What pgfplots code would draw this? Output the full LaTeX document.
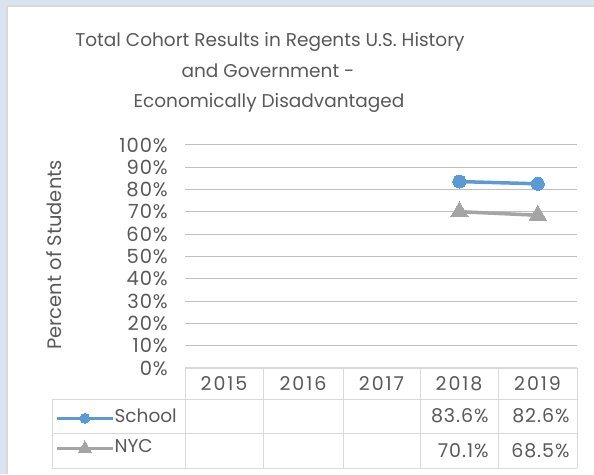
\documentclass[border=0pt]{standalone}
\usepackage{pgfplots}
\pgfplotsset{compat=1.18}
\usepackage{fontspec}
\setmainfont{Poppins}
\newfontfamily\wide[LetterSpace=10]{Poppins}
\newfontfamily\semiwide[LetterSpace=5]{Poppins}
\definecolor{txt}{HTML}{595959}
\definecolor{grid}{HTML}{D9D9D9}
\definecolor{bgblue}{HTML}{DAE3EF}
\definecolor{sch}{HTML}{5B9BD5}
\definecolor{nyc}{HTML}{A5A5A5}
\begin{document}
\begin{tikzpicture}[x=1pt,y=1pt]
\fill[bgblue] (0,0) rectangle (594,474);
\fill[grid] (6,0) rectangle (594,469);
\fill[white] (8,0) rectangle (594,467);
% title
\node[anchor=base,text=txt,font=\fontsize{18.5}{20}\selectfont] at (270,427) {Total Cohort Results in Regents U.S. History};
\node[anchor=base,text=txt,font=\fontsize{18.5}{20}\selectfont] at (268,396) {and Government -};
\node[anchor=base,text=txt,font=\fontsize{18.5}{20}\selectfont] at (269,366) {Economically Disadvantaged};
\begin{axis}[
  scale only axis, width=392pt, height=223pt,
  at={(185pt,106pt)}, anchor=south west,
  xmin=0, xmax=5, ymin=0, ymax=100,
  xtick=\empty,
  ytick={0,10,...,100},
  yticklabels={0\%,10\%,20\%,30\%,40\%,50\%,60\%,70\%,80\%,90\%,100\%},
  ymajorgrids, grid style={grid, line width=1pt},
  axis line style={draw=none},
  major tick length=0pt,
  yticklabel style={text=txt, font=\semiwide\fontsize{19.5}{21}\selectfont, inner sep=0pt, xshift=-17pt},
  ylabel={Percent of Students},
  ylabel style={text=txt, font=\fontsize{19.5}{21}\selectfont, at={(axis description cs:-0.335,0.507)}, anchor=center},
  clip=false,
  legend style={draw=none, fill=none, at={(axis description cs:-0.3395,-0.18)}, anchor=north west,
    font=\fontsize{18.5}{20}\selectfont, text=txt, row sep=14pt,
    nodes={inner sep=0pt, text height=12pt, text depth=4pt, xshift=4pt}},
  legend cell align=left,
  legend image code/.code={\draw[mark repeat=2,mark phase=2,#1, every mark/.append style={scale=0.75}] plot coordinates {(0pt,0pt) (28pt,0pt) (56pt,0pt)};},
]
\addplot[sch, line width=3.5pt, mark=*, mark size=6.5pt, mark options={solid, line width=0pt}] coordinates {(3.5,83.6) (4.5,82.6)};
\addlegendentry{School}
\addplot[nyc, line width=3.5pt, mark=triangle*, mark size=10pt, mark options={solid, line width=0pt}] coordinates {(3.5,70.1) (4.5,68.5)};
\addlegendentry{NYC}
\end{axis}
% data table
\begin{scope}[draw=grid, line width=1pt]
\draw (185,106) -- (577,106);
\draw (52,75) -- (577,75);
\draw (52,41) -- (577,41);
\draw (52,6) -- (577,6);
\draw (52,75) -- (52,6);
\foreach \x in {185,263,343,420,498,577} {\draw (\x,106) -- (\x,6);}
\end{scope}
\begin{scope}[font=\wide\fontsize{19}{21}\selectfont, text=txt]
\node at (224,90.5) {2015};
\node at (303,90.5) {2016};
\node at (381.5,90.5) {2017};
\node at (459,90.5) {2018};
\node at (537.5,90.5) {2019};
\end{scope}
\begin{scope}[font=\semiwide\fontsize{19}{21}\selectfont, text=txt]
\node[anchor=east] at (492,58) {83.6\%};
\node[anchor=east] at (573,58) {82.6\%};
\node[anchor=east] at (492,23.5) {70.1\%};
\node[anchor=east] at (573,23.5) {68.5\%};
\end{scope}
\pgfresetboundingbox
\useasboundingbox (0,0) rectangle (594,474);
\end{tikzpicture}
\end{document}
